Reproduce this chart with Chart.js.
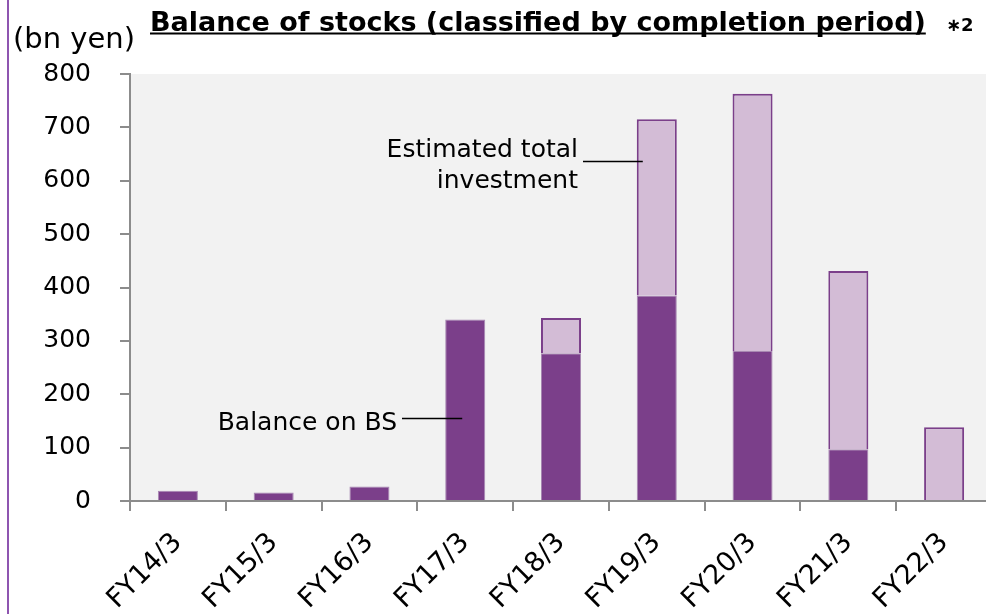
<!DOCTYPE html>
<html><head><meta charset="utf-8">
<script src="https://cdn.jsdelivr.net/npm/chart.js@4/dist/chart.umd.min.js"></script>
<style>
html,body{margin:0;padding:0;background:#fff;overflow:hidden;}
#wrap{position:relative;width:1000px;height:614px;}
</style></head><body>
<div id="wrap"><canvas id="c" width="1000" height="614"></canvas></div>
<script>
const categories = ['FY14/3','FY15/3','FY16/3','FY17/3','FY18/3','FY19/3','FY20/3','FY21/3','FY22/3'];
const balanceOnBS = [19, 16, 27, 340, 277, 385, 281, 97, 0];
const remainingToTotal = [0, 0, 0, 0, 66, 330, 482, 334, 138];
const yTicks = [0, 100, 200, 300, 400, 500, 600, 700, 800];
const titleText = 'Balance of stocks (classified by completion period)';
const titleNote = '∗2';
const unitLabel = '(bn yen)';
const noteTotal = ['Estimated total', 'investment'];
const noteBS = 'Balance on BS';

const DARK = '#7b3f8a';
const LIGHT = '#d3bcd6';
const AXIS = '#8c8c8c';
const FONT = '"DejaVu Sans", Verdana, sans-serif';

const decor = {
  id: 'decor',
  beforeDraw(chart) {
    const {ctx, chartArea: a} = chart;
    ctx.save();
    ctx.fillStyle = '#f2f2f2';
    ctx.fillRect(a.left, a.top, a.right - a.left, a.bottom - a.top);
    ctx.restore();
  },
  afterDraw(chart) {
    const {ctx} = chart;
    const xs = chart.scales.x;
    ctx.save();
    // left purple rule
    ctx.fillStyle = '#8e55b0';
    ctx.fillRect(7, 0, 2, 614);
    // title
    ctx.fillStyle = '#000';
    ctx.textBaseline = 'alphabetic';
    ctx.textAlign = 'left';
    ctx.font = 'bold 27px ' + FONT;
    ctx.fillText(titleText, 150, 31, 777);
    const tw = Math.min(777, ctx.measureText(titleText).width);
    ctx.fillRect(150, 32.5, tw, 2);
    ctx.font = 'bold 18px ' + FONT;
    ctx.fillText(titleNote, 946, 31, 36);
    // unit label
    ctx.font = '29px ' + FONT;
    ctx.fillText(unitLabel, 13, 48, 122);
    // annotations
    ctx.font = '25px ' + FONT;
    ctx.textAlign = 'right';
    ctx.fillText(noteTotal[0], 578, 157);
    ctx.fillText(noteTotal[1], 578, 188);
    ctx.fillText(noteBS, 397, 430);
    ctx.strokeStyle = '#000';
    ctx.lineWidth = 1.5;
    ctx.beginPath();
    const x5 = xs.getPixelForValue(5), x3 = xs.getPixelForValue(3);
    ctx.moveTo(583, 161.5); ctx.lineTo(x5 - 14, 161.5);
    ctx.moveTo(402, 418.5); ctx.lineTo(x3 - 3, 418.5);
    ctx.stroke();
    ctx.restore();
  }
};

new Chart(document.getElementById('c'), {
  type: 'bar',
  data: {
    labels: categories,
    datasets: [
      {label: 'Balance on BS', data: balanceOnBS, backgroundColor: DARK,
       borderColor: '#a888b2', borderWidth: {top: 1, left: 1, right: 1, bottom: 0},
       barPercentage: 0.418, categoryPercentage: 1},
      {label: 'Estimated total investment', data: remainingToTotal, backgroundColor: LIGHT,
       borderColor: DARK, borderWidth: 2,
       barPercentage: 0.418, categoryPercentage: 1}
    ]
  },
  options: {
    responsive: false, animation: false, devicePixelRatio: 1,
    layout: {padding: {top: 74, right: 8, left: 0, bottom: 0}},
    plugins: {legend: {display: false}, tooltip: {enabled: false}, title: {display: false}},
    scales: {
      x: {
        stacked: true,
        grid: {display: true, drawOnChartArea: false, drawTicks: true, tickLength: 10, color: AXIS, lineWidth: 2, offset: true},
        border: {display: true, color: AXIS, width: 2},
        ticks: {autoSkip: false, maxRotation: 45, minRotation: 45, color: '#000', font: {family: FONT, size: 27}, padding: 16},
        afterFit(s) { s.height = 113; }
      },
      y: {
        stacked: true, min: 0, max: 800,
        afterBuildTicks(s) { s.ticks = yTicks.map(v => ({value: v})); },
        grid: {display: true, drawOnChartArea: false, drawTicks: true, tickLength: 10, color: AXIS, lineWidth: 2},
        border: {display: true, color: AXIS, width: 2},
        ticks: {color: '#000', font: {family: FONT, size: 25}, padding: 29},
        afterFit(s) { s.width = 130; }
      }
    }
  },
  plugins: [decor]
});
</script>
</body></html>
